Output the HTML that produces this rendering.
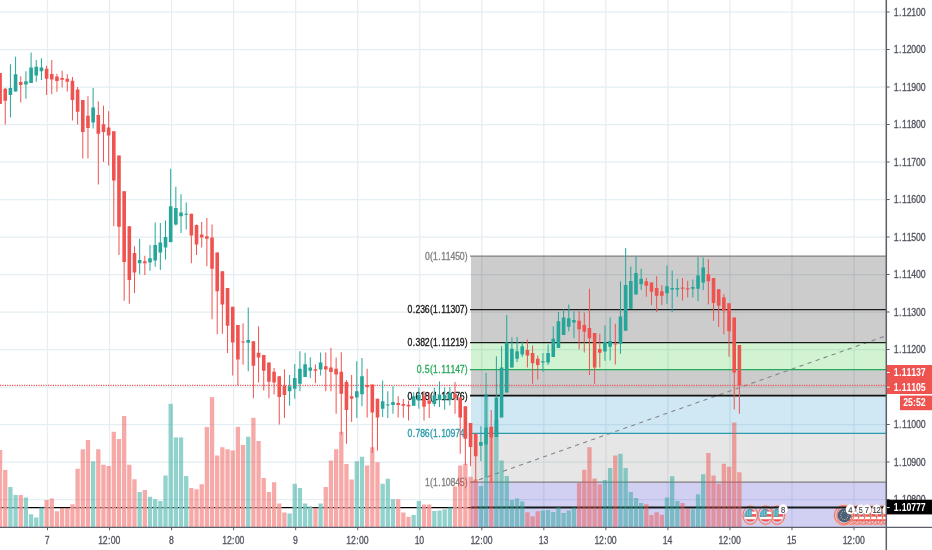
<!DOCTYPE html>
<html><head><meta charset="utf-8"><title>Chart</title>
<style>html,body{margin:0;padding:0;background:#fff;overflow:hidden}</style></head>
<body>
<svg width="932" height="550" viewBox="0 0 932 550" style="display:block;font-family:'Liberation Sans',sans-serif">
<rect width="932" height="550" fill="#fff"/>
<g stroke="#e4eef3" stroke-width="1.25">
<line x1="47.50" y1="0" x2="47.50" y2="527.4"/>
<line x1="109.54" y1="0" x2="109.54" y2="527.4"/>
<line x1="171.58" y1="0" x2="171.58" y2="527.4"/>
<line x1="233.62" y1="0" x2="233.62" y2="527.4"/>
<line x1="295.66" y1="0" x2="295.66" y2="527.4"/>
<line x1="357.70" y1="0" x2="357.70" y2="527.4"/>
<line x1="419.74" y1="0" x2="419.74" y2="527.4"/>
<line x1="481.78" y1="0" x2="481.78" y2="527.4"/>
<line x1="543.82" y1="0" x2="543.82" y2="527.4"/>
<line x1="605.86" y1="0" x2="605.86" y2="527.4"/>
<line x1="667.90" y1="0" x2="667.90" y2="527.4"/>
<line x1="729.94" y1="0" x2="729.94" y2="527.4"/>
<line x1="791.98" y1="0" x2="791.98" y2="527.4"/>
<line x1="854.02" y1="0" x2="854.02" y2="527.4"/>
<line x1="0" y1="12.00" x2="886.3" y2="12.00"/>
<line x1="0" y1="49.50" x2="886.3" y2="49.50"/>
<line x1="0" y1="87.00" x2="886.3" y2="87.00"/>
<line x1="0" y1="124.50" x2="886.3" y2="124.50"/>
<line x1="0" y1="162.00" x2="886.3" y2="162.00"/>
<line x1="0" y1="199.50" x2="886.3" y2="199.50"/>
<line x1="0" y1="237.00" x2="886.3" y2="237.00"/>
<line x1="0" y1="274.50" x2="886.3" y2="274.50"/>
<line x1="0" y1="312.00" x2="886.3" y2="312.00"/>
<line x1="0" y1="349.50" x2="886.3" y2="349.50"/>
<line x1="0" y1="387.00" x2="886.3" y2="387.00"/>
<line x1="0" y1="424.50" x2="886.3" y2="424.50"/>
<line x1="0" y1="462.00" x2="886.3" y2="462.00"/>
<line x1="0" y1="499.50" x2="886.3" y2="499.50"/>
</g>
<g>
<rect x="471.0" y="256.00" width="415.30" height="53.50" fill="#000000" fill-opacity="0.2"/>
<rect x="471.0" y="309.50" width="415.30" height="33.00" fill="#000000" fill-opacity="0.2"/>
<rect x="471.0" y="342.50" width="415.30" height="27.00" fill="#19c319" fill-opacity="0.2"/>
<rect x="471.0" y="369.50" width="415.30" height="26.10" fill="#000000" fill-opacity="0.2"/>
<rect x="471.0" y="395.60" width="415.30" height="37.80" fill="#148cc8" fill-opacity="0.2"/>
<rect x="471.0" y="433.40" width="415.30" height="48.60" fill="#808080" fill-opacity="0.2"/>
<rect x="471.0" y="482.00" width="415.30" height="45.40" fill="#1914c3" fill-opacity="0.2"/>
</g>
<line x1="471.0" y1="482.6" x2="886.3" y2="335.7" stroke="#85858a" stroke-width="1.1" stroke-dasharray="4.2 4.3"/>
<line x1="470.0" y1="256.00" x2="886.3" y2="256.00" stroke="#808080" stroke-width="1.25"/>
<text transform="translate(424.95,259.90) scale(0.81,1)" x="-0.10 6.17 10.05 16.52 20.02 25.77 31.52 37.27 43.01 49.28" y="0" font-size="10.7" fill="#808080" stroke="#808080" stroke-width="0.34">0(1.11450)</text>
<line x1="470.0" y1="309.50" x2="886.3" y2="309.50" stroke="#1a1a1a" stroke-width="1.25"/>
<text transform="translate(407.57,313.40) scale(0.81,1)" x="-0.10 6.37 9.87 15.62 21.37 27.64 31.52 37.99 41.49 47.23 52.98 58.73 64.48 70.75" y="0" font-size="10.7" fill="#1a1a1a" stroke="#1a1a1a" stroke-width="0.34">0.236(1.11307)</text>
<line x1="470.0" y1="342.50" x2="886.3" y2="342.50" stroke="#1a1a1a" stroke-width="1.25"/>
<text transform="translate(407.57,346.40) scale(0.81,1)" x="-0.10 6.37 9.87 15.62 21.37 27.64 31.52 37.99 41.49 47.23 52.98 58.73 64.48 70.75" y="0" font-size="10.7" fill="#1a1a1a" stroke="#1a1a1a" stroke-width="0.34">0.382(1.11219)</text>
<line x1="470.0" y1="369.50" x2="886.3" y2="369.50" stroke="#27a85a" stroke-width="1.25"/>
<text transform="translate(416.88,373.40) scale(0.81,1)" x="-0.10 6.37 9.87 16.14 20.02 26.49 29.99 35.74 41.49 47.23 52.98 59.25" y="0" font-size="10.7" fill="#27a85a" stroke="#27a85a" stroke-width="0.34">0.5(1.11147)</text>
<line x1="470.0" y1="395.60" x2="886.3" y2="395.60" stroke="#111" stroke-width="1.7"/>
<text transform="translate(407.57,399.50) scale(0.81,1)" x="-0.10 6.37 9.87 15.62 21.37 27.64 31.52 37.99 41.49 47.23 52.98 58.73 64.48 70.75" y="0" font-size="10.7" fill="#111" stroke="#111" stroke-width="0.34">0.618(1.11076)</text>
<line x1="470.0" y1="433.40" x2="886.3" y2="433.40" stroke="#2b9aaa" stroke-width="1.25"/>
<text transform="translate(407.57,437.30) scale(0.81,1)" x="-0.10 6.37 9.87 15.62 21.37 27.64 31.52 37.99 41.49 47.23 52.98 58.73 64.48 70.75" y="0" font-size="10.7" fill="#2b9aaa" stroke="#2b9aaa" stroke-width="0.34">0.786(1.10974)</text>
<line x1="470.0" y1="482.00" x2="886.3" y2="482.00" stroke="#808080" stroke-width="1.25"/>
<text transform="translate(424.95,485.90) scale(0.81,1)" x="-0.10 6.17 10.05 16.52 20.02 25.77 31.52 37.27 43.01 49.28" y="0" font-size="10.7" fill="#808080" stroke="#808080" stroke-width="0.34">1(1.10845)</text>
<clipPath id="chartclip"><rect x="0" y="0" width="886.3" height="527.4"/></clipPath>
<g clip-path="url(#chartclip)">
<ellipse cx="777.2" cy="515.1999999999999" rx="7.8" ry="9.6" fill="none" stroke="#fbb5a0" stroke-width="1.3" stroke-opacity="0.75"/><ellipse cx="777.2" cy="515.1999999999999" rx="7.35" ry="9.1" fill="none" stroke="#f2654f" stroke-width="0.9"/><clipPath id="c7772"><ellipse cx="777.2" cy="515.4" rx="5.95" ry="6.45"/></clipPath><g clip-path="url(#c7772)"><rect x="771.25" y="508.95" width="11.9" height="12.9" fill="#fff"/><rect x="771.25" y="508.95" width="11.9" height="2.58" fill="#f0524f"/><rect x="771.25" y="514.11" width="11.9" height="2.58" fill="#f0524f"/><rect x="771.25" y="519.27" width="11.9" height="2.58" fill="#f0524f"/><rect x="771.25" y="508.95" width="7.38" height="7.74" fill="#45a3b6"/><line x1="772.25" y1="511.05" x2="778.13" y2="511.05" stroke="#d6f0f3" stroke-width="0.8" stroke-dasharray="0.9 0.8"/><line x1="772.25" y1="512.95" x2="778.13" y2="512.95" stroke="#d6f0f3" stroke-width="0.8" stroke-dasharray="0.9 0.8"/><line x1="772.25" y1="514.85" x2="778.13" y2="514.85" stroke="#d6f0f3" stroke-width="0.8" stroke-dasharray="0.9 0.8"/></g>
<ellipse cx="765.6" cy="515.1999999999999" rx="7.8" ry="9.6" fill="none" stroke="#fbb5a0" stroke-width="1.3" stroke-opacity="0.75"/><ellipse cx="765.6" cy="515.1999999999999" rx="7.35" ry="9.1" fill="none" stroke="#f2654f" stroke-width="0.9"/><clipPath id="c7656"><ellipse cx="765.6" cy="515.4" rx="5.95" ry="6.45"/></clipPath><g clip-path="url(#c7656)"><rect x="759.65" y="508.95" width="11.9" height="12.9" fill="#fff"/><rect x="759.65" y="508.95" width="11.9" height="2.58" fill="#f0524f"/><rect x="759.65" y="514.11" width="11.9" height="2.58" fill="#f0524f"/><rect x="759.65" y="519.27" width="11.9" height="2.58" fill="#f0524f"/><rect x="759.65" y="508.95" width="7.38" height="7.74" fill="#45a3b6"/><line x1="760.65" y1="511.05" x2="766.53" y2="511.05" stroke="#d6f0f3" stroke-width="0.8" stroke-dasharray="0.9 0.8"/><line x1="760.65" y1="512.95" x2="766.53" y2="512.95" stroke="#d6f0f3" stroke-width="0.8" stroke-dasharray="0.9 0.8"/><line x1="760.65" y1="514.85" x2="766.53" y2="514.85" stroke="#d6f0f3" stroke-width="0.8" stroke-dasharray="0.9 0.8"/></g>
<ellipse cx="750.3" cy="515.1999999999999" rx="7.8" ry="9.6" fill="none" stroke="#fbb5a0" stroke-width="1.3" stroke-opacity="0.75"/><ellipse cx="750.3" cy="515.1999999999999" rx="7.35" ry="9.1" fill="none" stroke="#f2654f" stroke-width="0.9"/><clipPath id="c7503"><ellipse cx="750.3" cy="515.4" rx="5.95" ry="6.45"/></clipPath><g clip-path="url(#c7503)"><rect x="744.3499999999999" y="508.95" width="11.9" height="12.9" fill="#fff"/><rect x="744.3499999999999" y="508.95" width="11.9" height="2.58" fill="#f0524f"/><rect x="744.3499999999999" y="514.11" width="11.9" height="2.58" fill="#f0524f"/><rect x="744.3499999999999" y="519.27" width="11.9" height="2.58" fill="#f0524f"/><rect x="744.3499999999999" y="508.95" width="7.38" height="7.74" fill="#45a3b6"/><line x1="745.3499999999999" y1="511.05" x2="751.23" y2="511.05" stroke="#d6f0f3" stroke-width="0.8" stroke-dasharray="0.9 0.8"/><line x1="745.3499999999999" y1="512.95" x2="751.23" y2="512.95" stroke="#d6f0f3" stroke-width="0.8" stroke-dasharray="0.9 0.8"/><line x1="745.3499999999999" y1="514.85" x2="751.23" y2="514.85" stroke="#d6f0f3" stroke-width="0.8" stroke-dasharray="0.9 0.8"/></g>
<ellipse cx="887.5" cy="515.1999999999999" rx="7.8" ry="9.6" fill="none" stroke="#fbb5a0" stroke-width="1.3" stroke-opacity="0.75"/><ellipse cx="887.5" cy="515.1999999999999" rx="7.35" ry="9.1" fill="none" stroke="#f2654f" stroke-width="0.9"/><clipPath id="c8875"><ellipse cx="887.5" cy="515.4" rx="5.95" ry="6.45"/></clipPath><g clip-path="url(#c8875)"><rect x="881.55" y="508.95" width="11.9" height="12.9" fill="#fff"/><rect x="881.55" y="508.95" width="11.9" height="2.58" fill="#f0524f"/><rect x="881.55" y="514.11" width="11.9" height="2.58" fill="#f0524f"/><rect x="881.55" y="519.27" width="11.9" height="2.58" fill="#f0524f"/><rect x="881.55" y="508.95" width="7.38" height="7.74" fill="#45a3b6"/><line x1="882.55" y1="511.05" x2="888.43" y2="511.05" stroke="#d6f0f3" stroke-width="0.8" stroke-dasharray="0.9 0.8"/><line x1="882.55" y1="512.95" x2="888.43" y2="512.95" stroke="#d6f0f3" stroke-width="0.8" stroke-dasharray="0.9 0.8"/><line x1="882.55" y1="514.85" x2="888.43" y2="514.85" stroke="#d6f0f3" stroke-width="0.8" stroke-dasharray="0.9 0.8"/></g>
<ellipse cx="881.5" cy="515.1999999999999" rx="7.8" ry="9.6" fill="none" stroke="#fbb5a0" stroke-width="1.3" stroke-opacity="0.75"/><ellipse cx="881.5" cy="515.1999999999999" rx="7.35" ry="9.1" fill="none" stroke="#f2654f" stroke-width="0.9"/><clipPath id="c8815"><ellipse cx="881.5" cy="515.4" rx="5.95" ry="6.45"/></clipPath><g clip-path="url(#c8815)"><rect x="875.55" y="508.95" width="11.9" height="12.9" fill="#fff"/><rect x="875.55" y="508.95" width="11.9" height="2.58" fill="#f0524f"/><rect x="875.55" y="514.11" width="11.9" height="2.58" fill="#f0524f"/><rect x="875.55" y="519.27" width="11.9" height="2.58" fill="#f0524f"/><rect x="875.55" y="508.95" width="7.38" height="7.74" fill="#45a3b6"/><line x1="876.55" y1="511.05" x2="882.43" y2="511.05" stroke="#d6f0f3" stroke-width="0.8" stroke-dasharray="0.9 0.8"/><line x1="876.55" y1="512.95" x2="882.43" y2="512.95" stroke="#d6f0f3" stroke-width="0.8" stroke-dasharray="0.9 0.8"/><line x1="876.55" y1="514.85" x2="882.43" y2="514.85" stroke="#d6f0f3" stroke-width="0.8" stroke-dasharray="0.9 0.8"/></g>
<ellipse cx="875.5" cy="515.1999999999999" rx="7.8" ry="9.6" fill="none" stroke="#fbb5a0" stroke-width="1.3" stroke-opacity="0.75"/><ellipse cx="875.5" cy="515.1999999999999" rx="7.35" ry="9.1" fill="none" stroke="#f2654f" stroke-width="0.9"/><clipPath id="c8755"><ellipse cx="875.5" cy="515.4" rx="5.95" ry="6.45"/></clipPath><g clip-path="url(#c8755)"><rect x="869.55" y="508.95" width="11.9" height="12.9" fill="#fff"/><rect x="869.55" y="508.95" width="11.9" height="2.58" fill="#f0524f"/><rect x="869.55" y="514.11" width="11.9" height="2.58" fill="#f0524f"/><rect x="869.55" y="519.27" width="11.9" height="2.58" fill="#f0524f"/><rect x="869.55" y="508.95" width="7.38" height="7.74" fill="#45a3b6"/><line x1="870.55" y1="511.05" x2="876.43" y2="511.05" stroke="#d6f0f3" stroke-width="0.8" stroke-dasharray="0.9 0.8"/><line x1="870.55" y1="512.95" x2="876.43" y2="512.95" stroke="#d6f0f3" stroke-width="0.8" stroke-dasharray="0.9 0.8"/><line x1="870.55" y1="514.85" x2="876.43" y2="514.85" stroke="#d6f0f3" stroke-width="0.8" stroke-dasharray="0.9 0.8"/></g>
<ellipse cx="869.5" cy="515.1999999999999" rx="7.8" ry="9.6" fill="none" stroke="#fbb5a0" stroke-width="1.3" stroke-opacity="0.75"/><ellipse cx="869.5" cy="515.1999999999999" rx="7.35" ry="9.1" fill="none" stroke="#f2654f" stroke-width="0.9"/><clipPath id="c8695"><ellipse cx="869.5" cy="515.4" rx="5.95" ry="6.45"/></clipPath><g clip-path="url(#c8695)"><rect x="863.55" y="508.95" width="11.9" height="12.9" fill="#fff"/><rect x="863.55" y="508.95" width="11.9" height="2.58" fill="#f0524f"/><rect x="863.55" y="514.11" width="11.9" height="2.58" fill="#f0524f"/><rect x="863.55" y="519.27" width="11.9" height="2.58" fill="#f0524f"/><rect x="863.55" y="508.95" width="7.38" height="7.74" fill="#45a3b6"/><line x1="864.55" y1="511.05" x2="870.43" y2="511.05" stroke="#d6f0f3" stroke-width="0.8" stroke-dasharray="0.9 0.8"/><line x1="864.55" y1="512.95" x2="870.43" y2="512.95" stroke="#d6f0f3" stroke-width="0.8" stroke-dasharray="0.9 0.8"/><line x1="864.55" y1="514.85" x2="870.43" y2="514.85" stroke="#d6f0f3" stroke-width="0.8" stroke-dasharray="0.9 0.8"/></g>
<ellipse cx="863.5" cy="515.1999999999999" rx="7.8" ry="9.6" fill="none" stroke="#fbb5a0" stroke-width="1.3" stroke-opacity="0.75"/><ellipse cx="863.5" cy="515.1999999999999" rx="7.35" ry="9.1" fill="none" stroke="#f2654f" stroke-width="0.9"/><clipPath id="c8635"><ellipse cx="863.5" cy="515.4" rx="5.95" ry="6.45"/></clipPath><g clip-path="url(#c8635)"><rect x="857.55" y="508.95" width="11.9" height="12.9" fill="#fff"/><rect x="857.55" y="508.95" width="11.9" height="2.58" fill="#f0524f"/><rect x="857.55" y="514.11" width="11.9" height="2.58" fill="#f0524f"/><rect x="857.55" y="519.27" width="11.9" height="2.58" fill="#f0524f"/><rect x="857.55" y="508.95" width="7.38" height="7.74" fill="#45a3b6"/><line x1="858.55" y1="511.05" x2="864.43" y2="511.05" stroke="#d6f0f3" stroke-width="0.8" stroke-dasharray="0.9 0.8"/><line x1="858.55" y1="512.95" x2="864.43" y2="512.95" stroke="#d6f0f3" stroke-width="0.8" stroke-dasharray="0.9 0.8"/><line x1="858.55" y1="514.85" x2="864.43" y2="514.85" stroke="#d6f0f3" stroke-width="0.8" stroke-dasharray="0.9 0.8"/></g>
<ellipse cx="857.5" cy="515.1999999999999" rx="7.8" ry="9.6" fill="none" stroke="#fbb5a0" stroke-width="1.3" stroke-opacity="0.75"/><ellipse cx="857.5" cy="515.1999999999999" rx="7.35" ry="9.1" fill="none" stroke="#f2654f" stroke-width="0.9"/><clipPath id="c8575"><ellipse cx="857.5" cy="515.4" rx="5.95" ry="6.45"/></clipPath><g clip-path="url(#c8575)"><rect x="851.55" y="508.95" width="11.9" height="12.9" fill="#fff"/><rect x="851.55" y="508.95" width="11.9" height="2.58" fill="#f0524f"/><rect x="851.55" y="514.11" width="11.9" height="2.58" fill="#f0524f"/><rect x="851.55" y="519.27" width="11.9" height="2.58" fill="#f0524f"/><rect x="851.55" y="508.95" width="7.38" height="7.74" fill="#45a3b6"/><line x1="852.55" y1="511.05" x2="858.43" y2="511.05" stroke="#d6f0f3" stroke-width="0.8" stroke-dasharray="0.9 0.8"/><line x1="852.55" y1="512.95" x2="858.43" y2="512.95" stroke="#d6f0f3" stroke-width="0.8" stroke-dasharray="0.9 0.8"/><line x1="852.55" y1="514.85" x2="858.43" y2="514.85" stroke="#d6f0f3" stroke-width="0.8" stroke-dasharray="0.9 0.8"/></g>
<ellipse cx="851.5" cy="515.1999999999999" rx="7.8" ry="9.6" fill="none" stroke="#fbb5a0" stroke-width="1.3" stroke-opacity="0.75"/><ellipse cx="851.5" cy="515.1999999999999" rx="7.35" ry="9.1" fill="none" stroke="#f2654f" stroke-width="0.9"/><clipPath id="c8515"><ellipse cx="851.5" cy="515.4" rx="5.95" ry="6.45"/></clipPath><g clip-path="url(#c8515)"><rect x="845.55" y="508.95" width="11.9" height="12.9" fill="#fff"/><rect x="845.55" y="508.95" width="11.9" height="2.58" fill="#f0524f"/><rect x="845.55" y="514.11" width="11.9" height="2.58" fill="#f0524f"/><rect x="845.55" y="519.27" width="11.9" height="2.58" fill="#f0524f"/><rect x="845.55" y="508.95" width="7.38" height="7.74" fill="#45a3b6"/><line x1="846.55" y1="511.05" x2="852.43" y2="511.05" stroke="#d6f0f3" stroke-width="0.8" stroke-dasharray="0.9 0.8"/><line x1="846.55" y1="512.95" x2="852.43" y2="512.95" stroke="#d6f0f3" stroke-width="0.8" stroke-dasharray="0.9 0.8"/><line x1="846.55" y1="514.85" x2="852.43" y2="514.85" stroke="#d6f0f3" stroke-width="0.8" stroke-dasharray="0.9 0.8"/></g>
<ellipse cx="844.0" cy="515.1999999999999" rx="10.0" ry="10.2" fill="none" stroke="#fbb5a0" stroke-width="1.3" stroke-opacity="0.75"/><ellipse cx="844.0" cy="515.1999999999999" rx="9.55" ry="9.7" fill="none" stroke="#f2654f" stroke-width="0.9"/><ellipse cx="844.4" cy="515.1999999999999" rx="7.9" ry="9.3" fill="none" stroke="#fbb5a0" stroke-width="1.3" stroke-opacity="0.75"/><ellipse cx="844.4" cy="515.1999999999999" rx="7.45" ry="8.8" fill="none" stroke="#f2654f" stroke-width="0.9"/><ellipse cx="844.4" cy="515.4" rx="6.7" ry="7.0" fill="#4a6079"/><circle cx="848.10" cy="515.40" r="0.5" fill="#d9c9a0"/><circle cx="847.60" cy="517.50" r="0.5" fill="#d9c9a0"/><circle cx="846.25" cy="519.04" r="0.5" fill="#d9c9a0"/><circle cx="844.40" cy="519.60" r="0.5" fill="#d9c9a0"/><circle cx="842.55" cy="519.04" r="0.5" fill="#d9c9a0"/><circle cx="841.20" cy="517.50" r="0.5" fill="#d9c9a0"/><circle cx="840.70" cy="515.40" r="0.5" fill="#d9c9a0"/><circle cx="841.20" cy="513.30" r="0.5" fill="#d9c9a0"/><circle cx="842.55" cy="511.76" r="0.5" fill="#d9c9a0"/><circle cx="844.40" cy="511.20" r="0.5" fill="#d9c9a0"/><circle cx="846.25" cy="511.76" r="0.5" fill="#d9c9a0"/><circle cx="847.60" cy="513.30" r="0.5" fill="#d9c9a0"/>
</g>
<line x1="0" y1="507.6" x2="471.0" y2="507.6" stroke="#000" stroke-width="1.3"/>
<line x1="471.0" y1="507.55" x2="886.3" y2="507.55" stroke="#151c1c" stroke-width="1.9"/>
<g fill="#fff" fill-opacity="0.72">
<rect x="-2.08" y="506.5" width="4.3" height="2.2"/>
<rect x="3.09" y="506.5" width="4.3" height="2.2"/>
<rect x="8.26" y="506.5" width="4.3" height="2.2"/>
<rect x="13.43" y="506.5" width="4.3" height="2.2"/>
<rect x="18.60" y="506.5" width="4.3" height="2.2"/>
<rect x="23.77" y="506.5" width="4.3" height="2.2"/>
<rect x="44.45" y="506.5" width="4.3" height="2.2"/>
<rect x="49.62" y="506.5" width="4.3" height="2.2"/>
<rect x="70.30" y="506.5" width="4.3" height="2.2"/>
<rect x="75.47" y="506.5" width="4.3" height="2.2"/>
<rect x="80.64" y="506.5" width="4.3" height="2.2"/>
<rect x="85.81" y="506.5" width="4.3" height="2.2"/>
<rect x="90.98" y="506.5" width="4.3" height="2.2"/>
<rect x="96.15" y="506.5" width="4.3" height="2.2"/>
<rect x="101.32" y="506.5" width="4.3" height="2.2"/>
<rect x="106.49" y="506.5" width="4.3" height="2.2"/>
<rect x="111.66" y="506.5" width="4.3" height="2.2"/>
<rect x="116.83" y="506.5" width="4.3" height="2.2"/>
<rect x="122.00" y="506.5" width="4.3" height="2.2"/>
<rect x="127.17" y="506.5" width="4.3" height="2.2"/>
<rect x="132.34" y="506.5" width="4.3" height="2.2"/>
<rect x="137.51" y="506.5" width="4.3" height="2.2"/>
<rect x="142.68" y="506.5" width="4.3" height="2.2"/>
<rect x="147.85" y="506.5" width="4.3" height="2.2"/>
<rect x="153.02" y="506.5" width="4.3" height="2.2"/>
<rect x="158.19" y="506.5" width="4.3" height="2.2"/>
<rect x="163.36" y="506.5" width="4.3" height="2.2"/>
<rect x="168.53" y="506.5" width="4.3" height="2.2"/>
<rect x="173.70" y="506.5" width="4.3" height="2.2"/>
<rect x="178.87" y="506.5" width="4.3" height="2.2"/>
<rect x="184.04" y="506.5" width="4.3" height="2.2"/>
<rect x="189.21" y="506.5" width="4.3" height="2.2"/>
<rect x="194.38" y="506.5" width="4.3" height="2.2"/>
<rect x="199.55" y="506.5" width="4.3" height="2.2"/>
<rect x="204.72" y="506.5" width="4.3" height="2.2"/>
<rect x="209.89" y="506.5" width="4.3" height="2.2"/>
<rect x="215.06" y="506.5" width="4.3" height="2.2"/>
<rect x="220.23" y="506.5" width="4.3" height="2.2"/>
<rect x="225.40" y="506.5" width="4.3" height="2.2"/>
<rect x="230.57" y="506.5" width="4.3" height="2.2"/>
<rect x="235.74" y="506.5" width="4.3" height="2.2"/>
<rect x="240.91" y="506.5" width="4.3" height="2.2"/>
<rect x="246.08" y="506.5" width="4.3" height="2.2"/>
<rect x="251.25" y="506.5" width="4.3" height="2.2"/>
<rect x="256.42" y="506.5" width="4.3" height="2.2"/>
<rect x="261.59" y="506.5" width="4.3" height="2.2"/>
<rect x="266.76" y="506.5" width="4.3" height="2.2"/>
<rect x="271.93" y="506.5" width="4.3" height="2.2"/>
<rect x="277.10" y="506.5" width="4.3" height="2.2"/>
<rect x="292.61" y="506.5" width="4.3" height="2.2"/>
<rect x="297.78" y="506.5" width="4.3" height="2.2"/>
<rect x="302.95" y="506.5" width="4.3" height="2.2"/>
<rect x="308.12" y="506.5" width="4.3" height="2.2"/>
<rect x="318.46" y="506.5" width="4.3" height="2.2"/>
<rect x="323.63" y="506.5" width="4.3" height="2.2"/>
<rect x="328.80" y="506.5" width="4.3" height="2.2"/>
<rect x="333.97" y="506.5" width="4.3" height="2.2"/>
<rect x="339.14" y="506.5" width="4.3" height="2.2"/>
<rect x="344.31" y="506.5" width="4.3" height="2.2"/>
<rect x="349.48" y="506.5" width="4.3" height="2.2"/>
<rect x="354.65" y="506.5" width="4.3" height="2.2"/>
<rect x="359.82" y="506.5" width="4.3" height="2.2"/>
<rect x="364.99" y="506.5" width="4.3" height="2.2"/>
<rect x="370.16" y="506.5" width="4.3" height="2.2"/>
<rect x="375.33" y="506.5" width="4.3" height="2.2"/>
<rect x="380.50" y="506.5" width="4.3" height="2.2"/>
<rect x="385.67" y="506.5" width="4.3" height="2.2"/>
<rect x="390.84" y="506.5" width="4.3" height="2.2"/>
<rect x="396.01" y="506.5" width="4.3" height="2.2"/>
<rect x="416.69" y="506.5" width="4.3" height="2.2"/>
<rect x="421.86" y="506.5" width="4.3" height="2.2"/>
<rect x="427.03" y="506.5" width="4.3" height="2.2"/>
<rect x="452.88" y="506.5" width="4.3" height="2.2"/>
<rect x="458.05" y="506.5" width="4.3" height="2.2"/>
<rect x="463.22" y="506.5" width="4.3" height="2.2"/>
</g>
<g fill-opacity="0.5">
<rect x="-2.08" y="450.00" width="4.3" height="77.40" fill="#ef5350"/>
<rect x="3.09" y="470.00" width="4.3" height="57.40" fill="#ef5350"/>
<rect x="8.26" y="487.00" width="4.3" height="40.40" fill="#26a69a"/>
<rect x="13.43" y="495.00" width="4.3" height="32.40" fill="#26a69a"/>
<rect x="18.60" y="495.00" width="4.3" height="32.40" fill="#ef5350"/>
<rect x="23.77" y="497.50" width="4.3" height="29.90" fill="#26a69a"/>
<rect x="28.94" y="514.25" width="4.3" height="13.15" fill="#26a69a"/>
<rect x="34.11" y="517.50" width="4.3" height="9.90" fill="#26a69a"/>
<rect x="39.28" y="506.75" width="4.3" height="20.65" fill="#26a69a"/>
<rect x="44.45" y="500.00" width="4.3" height="27.40" fill="#ef5350"/>
<rect x="49.62" y="498.50" width="4.3" height="28.90" fill="#ef5350"/>
<rect x="54.79" y="511.25" width="4.3" height="16.15" fill="#ef5350"/>
<rect x="59.96" y="508.00" width="4.3" height="19.40" fill="#ef5350"/>
<rect x="65.13" y="508.00" width="4.3" height="19.40" fill="#ef5350"/>
<rect x="70.30" y="504.25" width="4.3" height="23.15" fill="#ef5350"/>
<rect x="75.47" y="468.75" width="4.3" height="58.65" fill="#ef5350"/>
<rect x="80.64" y="449.25" width="4.3" height="78.15" fill="#ef5350"/>
<rect x="85.81" y="440.00" width="4.3" height="87.40" fill="#ef5350"/>
<rect x="90.98" y="461.25" width="4.3" height="66.15" fill="#26a69a"/>
<rect x="96.15" y="449.25" width="4.3" height="78.15" fill="#ef5350"/>
<rect x="101.32" y="464.75" width="4.3" height="62.65" fill="#ef5350"/>
<rect x="106.49" y="466.00" width="4.3" height="61.40" fill="#ef5350"/>
<rect x="111.66" y="431.75" width="4.3" height="95.65" fill="#ef5350"/>
<rect x="116.83" y="439.00" width="4.3" height="88.40" fill="#ef5350"/>
<rect x="122.00" y="416.00" width="4.3" height="111.40" fill="#ef5350"/>
<rect x="127.17" y="464.75" width="4.3" height="62.65" fill="#ef5350"/>
<rect x="132.34" y="479.25" width="4.3" height="48.15" fill="#ef5350"/>
<rect x="137.51" y="492.00" width="4.3" height="35.40" fill="#26a69a"/>
<rect x="142.68" y="490.00" width="4.3" height="37.40" fill="#ef5350"/>
<rect x="147.85" y="496.75" width="4.3" height="30.65" fill="#26a69a"/>
<rect x="153.02" y="499.25" width="4.3" height="28.15" fill="#26a69a"/>
<rect x="158.19" y="501.00" width="4.3" height="26.40" fill="#26a69a"/>
<rect x="163.36" y="475.50" width="4.3" height="51.90" fill="#26a69a"/>
<rect x="168.53" y="403.80" width="4.3" height="123.60" fill="#26a69a"/>
<rect x="173.70" y="437.40" width="4.3" height="90.00" fill="#26a69a"/>
<rect x="178.87" y="437.40" width="4.3" height="90.00" fill="#26a69a"/>
<rect x="184.04" y="476.00" width="4.3" height="51.40" fill="#26a69a"/>
<rect x="189.21" y="488.00" width="4.3" height="39.40" fill="#ef5350"/>
<rect x="194.38" y="489.25" width="4.3" height="38.15" fill="#ef5350"/>
<rect x="199.55" y="484.25" width="4.3" height="43.15" fill="#ef5350"/>
<rect x="204.72" y="427.00" width="4.3" height="100.40" fill="#ef5350"/>
<rect x="209.89" y="397.10" width="4.3" height="130.30" fill="#ef5350"/>
<rect x="215.06" y="455.50" width="4.3" height="71.90" fill="#ef5350"/>
<rect x="220.23" y="447.25" width="4.3" height="80.15" fill="#ef5350"/>
<rect x="225.40" y="449.25" width="4.3" height="78.15" fill="#ef5350"/>
<rect x="230.57" y="450.50" width="4.3" height="76.90" fill="#ef5350"/>
<rect x="235.74" y="426.90" width="4.3" height="100.50" fill="#ef5350"/>
<rect x="240.91" y="445.00" width="4.3" height="82.40" fill="#ef5350"/>
<rect x="246.08" y="436.70" width="4.3" height="90.70" fill="#26a69a"/>
<rect x="251.25" y="417.80" width="4.3" height="109.60" fill="#ef5350"/>
<rect x="256.42" y="441.00" width="4.3" height="86.40" fill="#ef5350"/>
<rect x="261.59" y="478.00" width="4.3" height="49.40" fill="#ef5350"/>
<rect x="266.76" y="492.00" width="4.3" height="35.40" fill="#ef5350"/>
<rect x="271.93" y="482.25" width="4.3" height="45.15" fill="#ef5350"/>
<rect x="277.10" y="503.50" width="4.3" height="23.90" fill="#ef5350"/>
<rect x="282.27" y="512.50" width="4.3" height="14.90" fill="#ef5350"/>
<rect x="287.44" y="513.50" width="4.3" height="13.90" fill="#26a69a"/>
<rect x="292.61" y="483.75" width="4.3" height="43.65" fill="#26a69a"/>
<rect x="297.78" y="488.00" width="4.3" height="39.40" fill="#26a69a"/>
<rect x="302.95" y="503.50" width="4.3" height="23.90" fill="#26a69a"/>
<rect x="308.12" y="506.25" width="4.3" height="21.15" fill="#26a69a"/>
<rect x="313.29" y="507.50" width="4.3" height="19.90" fill="#ef5350"/>
<rect x="318.46" y="503.50" width="4.3" height="23.90" fill="#26a69a"/>
<rect x="323.63" y="487.00" width="4.3" height="40.40" fill="#ef5350"/>
<rect x="328.80" y="460.50" width="4.3" height="66.90" fill="#ef5350"/>
<rect x="333.97" y="449.25" width="4.3" height="78.15" fill="#ef5350"/>
<rect x="339.14" y="431.75" width="4.3" height="95.65" fill="#ef5350"/>
<rect x="344.31" y="464.00" width="4.3" height="63.40" fill="#ef5350"/>
<rect x="349.48" y="479.50" width="4.3" height="47.90" fill="#ef5350"/>
<rect x="354.65" y="461.25" width="4.3" height="66.15" fill="#26a69a"/>
<rect x="359.82" y="456.75" width="4.3" height="70.65" fill="#26a69a"/>
<rect x="364.99" y="465.50" width="4.3" height="61.90" fill="#ef5350"/>
<rect x="370.16" y="447.25" width="4.3" height="80.15" fill="#ef5350"/>
<rect x="375.33" y="462.25" width="4.3" height="65.15" fill="#ef5350"/>
<rect x="380.50" y="483.75" width="4.3" height="43.65" fill="#26a69a"/>
<rect x="385.67" y="478.75" width="4.3" height="48.65" fill="#26a69a"/>
<rect x="390.84" y="499.25" width="4.3" height="28.15" fill="#26a69a"/>
<rect x="396.01" y="499.25" width="4.3" height="28.15" fill="#ef5350"/>
<rect x="401.18" y="512.50" width="4.3" height="14.90" fill="#ef5350"/>
<rect x="406.35" y="516.75" width="4.3" height="10.65" fill="#ef5350"/>
<rect x="411.52" y="515.00" width="4.3" height="12.40" fill="#26a69a"/>
<rect x="416.69" y="501.00" width="4.3" height="26.40" fill="#26a69a"/>
<rect x="421.86" y="504.50" width="4.3" height="22.90" fill="#ef5350"/>
<rect x="427.03" y="504.50" width="4.3" height="22.90" fill="#ef5350"/>
<rect x="432.20" y="511.00" width="4.3" height="16.40" fill="#26a69a"/>
<rect x="437.37" y="510.50" width="4.3" height="16.90" fill="#26a69a"/>
<rect x="442.54" y="509.25" width="4.3" height="18.15" fill="#26a69a"/>
<rect x="447.71" y="506.75" width="4.3" height="20.65" fill="#26a69a"/>
<rect x="452.88" y="486.50" width="4.3" height="40.90" fill="#ef5350"/>
<rect x="458.05" y="465.50" width="4.3" height="61.90" fill="#ef5350"/>
<rect x="463.22" y="463.75" width="4.3" height="63.65" fill="#ef5350"/>
<rect x="468.39" y="476.75" width="4.3" height="50.65" fill="#ef5350"/>
<rect x="473.56" y="479.25" width="4.3" height="48.15" fill="#ef5350"/>
<rect x="478.73" y="486.00" width="4.3" height="41.40" fill="#26a69a"/>
<rect x="483.90" y="394.00" width="4.3" height="133.40" fill="#26a69a"/>
<rect x="489.07" y="426.50" width="4.3" height="100.90" fill="#ef5350"/>
<rect x="494.24" y="420.00" width="4.3" height="107.40" fill="#26a69a"/>
<rect x="499.41" y="460.50" width="4.3" height="66.90" fill="#26a69a"/>
<rect x="504.58" y="476.00" width="4.3" height="51.40" fill="#26a69a"/>
<rect x="509.75" y="500.00" width="4.3" height="27.40" fill="#26a69a"/>
<rect x="514.92" y="498.50" width="4.3" height="28.90" fill="#26a69a"/>
<rect x="520.09" y="501.50" width="4.3" height="25.90" fill="#26a69a"/>
<rect x="525.26" y="512.25" width="4.3" height="15.15" fill="#ef5350"/>
<rect x="530.43" y="516.25" width="4.3" height="11.15" fill="#ef5350"/>
<rect x="535.60" y="511.25" width="4.3" height="16.15" fill="#ef5350"/>
<rect x="540.77" y="510.50" width="4.3" height="16.90" fill="#26a69a"/>
<rect x="545.94" y="510.00" width="4.3" height="17.40" fill="#26a69a"/>
<rect x="551.11" y="512.00" width="4.3" height="15.40" fill="#26a69a"/>
<rect x="556.28" y="507.25" width="4.3" height="20.15" fill="#26a69a"/>
<rect x="561.45" y="513.00" width="4.3" height="14.40" fill="#26a69a"/>
<rect x="566.62" y="510.50" width="4.3" height="16.90" fill="#26a69a"/>
<rect x="571.79" y="507.50" width="4.3" height="19.90" fill="#26a69a"/>
<rect x="576.96" y="483.00" width="4.3" height="44.40" fill="#ef5350"/>
<rect x="582.13" y="469.75" width="4.3" height="57.65" fill="#ef5350"/>
<rect x="587.30" y="447.25" width="4.3" height="80.15" fill="#ef5350"/>
<rect x="592.47" y="478.50" width="4.3" height="48.90" fill="#ef5350"/>
<rect x="597.64" y="484.25" width="4.3" height="43.15" fill="#ef5350"/>
<rect x="602.81" y="480.00" width="4.3" height="47.40" fill="#26a69a"/>
<rect x="607.98" y="468.00" width="4.3" height="59.40" fill="#26a69a"/>
<rect x="613.15" y="455.50" width="4.3" height="71.90" fill="#ef5350"/>
<rect x="618.32" y="453.75" width="4.3" height="73.65" fill="#26a69a"/>
<rect x="623.49" y="468.00" width="4.3" height="59.40" fill="#26a69a"/>
<rect x="628.66" y="492.00" width="4.3" height="35.40" fill="#26a69a"/>
<rect x="633.83" y="498.00" width="4.3" height="29.40" fill="#26a69a"/>
<rect x="639.00" y="503.00" width="4.3" height="24.40" fill="#26a69a"/>
<rect x="644.17" y="504.25" width="4.3" height="23.15" fill="#ef5350"/>
<rect x="649.34" y="515.00" width="4.3" height="12.40" fill="#ef5350"/>
<rect x="654.51" y="512.25" width="4.3" height="15.15" fill="#ef5350"/>
<rect x="659.68" y="514.75" width="4.3" height="12.65" fill="#ef5350"/>
<rect x="664.85" y="497.50" width="4.3" height="29.90" fill="#26a69a"/>
<rect x="670.02" y="476.25" width="4.3" height="51.15" fill="#26a69a"/>
<rect x="675.19" y="501.00" width="4.3" height="26.40" fill="#26a69a"/>
<rect x="680.36" y="503.00" width="4.3" height="24.40" fill="#ef5350"/>
<rect x="685.53" y="508.75" width="4.3" height="18.65" fill="#ef5350"/>
<rect x="690.70" y="509.25" width="4.3" height="18.15" fill="#26a69a"/>
<rect x="695.87" y="494.25" width="4.3" height="33.15" fill="#26a69a"/>
<rect x="701.04" y="474.25" width="4.3" height="53.15" fill="#26a69a"/>
<rect x="706.21" y="453.00" width="4.3" height="74.40" fill="#ef5350"/>
<rect x="711.38" y="475.50" width="4.3" height="51.90" fill="#ef5350"/>
<rect x="716.55" y="483.75" width="4.3" height="43.65" fill="#ef5350"/>
<rect x="721.72" y="463.75" width="4.3" height="63.65" fill="#ef5350"/>
<rect x="726.89" y="466.75" width="4.3" height="60.65" fill="#ef5350"/>
<rect x="732.06" y="422.50" width="4.3" height="104.90" fill="#ef5350"/>
<rect x="737.23" y="472.25" width="4.3" height="55.15" fill="#ef5350"/>
</g>
<line x1="0" y1="385.3" x2="886.3" y2="385.3" stroke="#ef5350" stroke-width="1.2" stroke-dasharray="1.2 1.2"/>
<g>
<rect x="-0.43" y="73.00" width="1" height="31.00" fill="#ef5350"/>
<rect x="-1.73" y="73.00" width="3.6" height="31.00" fill="#ef5350"/>
<rect x="4.74" y="88.00" width="1" height="36.50" fill="#ef5350"/>
<rect x="3.44" y="88.75" width="3.6" height="12.00" fill="#ef5350"/>
<rect x="9.91" y="64.25" width="1" height="53.25" fill="#26a69a"/>
<rect x="8.61" y="88.00" width="3.6" height="7.00" fill="#26a69a"/>
<rect x="15.08" y="56.75" width="1" height="34.75" fill="#26a69a"/>
<rect x="13.78" y="74.25" width="3.6" height="17.25" fill="#26a69a"/>
<rect x="20.25" y="76.25" width="1" height="26.25" fill="#ef5350"/>
<rect x="18.95" y="82.00" width="3.6" height="3.00" fill="#ef5350"/>
<rect x="25.42" y="71.25" width="1" height="27.50" fill="#26a69a"/>
<rect x="24.12" y="81.25" width="3.6" height="3.25" fill="#26a69a"/>
<rect x="30.59" y="52.50" width="1" height="30.50" fill="#26a69a"/>
<rect x="29.29" y="67.50" width="3.6" height="15.50" fill="#26a69a"/>
<rect x="35.76" y="60.00" width="1" height="21.75" fill="#26a69a"/>
<rect x="34.46" y="66.75" width="3.6" height="8.75" fill="#26a69a"/>
<rect x="40.93" y="58.25" width="1" height="21.75" fill="#26a69a"/>
<rect x="39.63" y="67.50" width="3.6" height="3.75" fill="#26a69a"/>
<rect x="46.10" y="65.75" width="1" height="29.25" fill="#ef5350"/>
<rect x="44.80" y="68.75" width="3.6" height="10.00" fill="#ef5350"/>
<rect x="51.27" y="60.00" width="1" height="34.25" fill="#ef5350"/>
<rect x="49.97" y="74.00" width="3.6" height="5.50" fill="#ef5350"/>
<rect x="56.44" y="73.75" width="1" height="18.00" fill="#ef5350"/>
<rect x="55.14" y="76.50" width="3.6" height="4.50" fill="#ef5350"/>
<rect x="61.61" y="70.75" width="1" height="16.75" fill="#ef5350"/>
<rect x="60.31" y="78.00" width="3.6" height="1.75" fill="#ef5350"/>
<rect x="66.78" y="74.25" width="1" height="17.25" fill="#ef5350"/>
<rect x="65.48" y="78.75" width="3.6" height="3.00" fill="#ef5350"/>
<rect x="71.95" y="77.00" width="1" height="43.50" fill="#ef5350"/>
<rect x="70.65" y="80.75" width="3.6" height="19.25" fill="#ef5350"/>
<rect x="77.12" y="87.00" width="1" height="37.50" fill="#ef5350"/>
<rect x="75.82" y="89.50" width="3.6" height="22.25" fill="#ef5350"/>
<rect x="82.29" y="100.00" width="1" height="58.50" fill="#ef5350"/>
<rect x="80.99" y="100.00" width="3.6" height="32.00" fill="#ef5350"/>
<rect x="87.46" y="96.25" width="1" height="62.25" fill="#ef5350"/>
<rect x="86.16" y="115.75" width="3.6" height="12.25" fill="#ef5350"/>
<rect x="92.63" y="88.00" width="1" height="40.50" fill="#26a69a"/>
<rect x="91.33" y="107.50" width="3.6" height="15.00" fill="#26a69a"/>
<rect x="97.80" y="101.25" width="1" height="83.25" fill="#ef5350"/>
<rect x="96.50" y="115.00" width="3.6" height="18.75" fill="#ef5350"/>
<rect x="102.97" y="105.75" width="1" height="56.25" fill="#ef5350"/>
<rect x="101.67" y="124.25" width="3.6" height="7.75" fill="#ef5350"/>
<rect x="108.14" y="111.25" width="1" height="54.25" fill="#ef5350"/>
<rect x="106.84" y="127.50" width="3.6" height="8.00" fill="#ef5350"/>
<rect x="113.31" y="131.25" width="1" height="95.00" fill="#ef5350"/>
<rect x="112.01" y="131.25" width="3.6" height="49.25" fill="#ef5350"/>
<rect x="118.48" y="155.50" width="1" height="99.50" fill="#ef5350"/>
<rect x="117.18" y="155.50" width="3.6" height="71.25" fill="#ef5350"/>
<rect x="123.65" y="191.25" width="1" height="109.50" fill="#ef5350"/>
<rect x="122.35" y="191.25" width="3.6" height="70.75" fill="#ef5350"/>
<rect x="128.82" y="226.25" width="1" height="77.50" fill="#ef5350"/>
<rect x="127.52" y="226.25" width="3.6" height="53.75" fill="#ef5350"/>
<rect x="133.99" y="246.25" width="1" height="46.75" fill="#ef5350"/>
<rect x="132.69" y="253.00" width="3.6" height="19.50" fill="#ef5350"/>
<rect x="139.16" y="238.75" width="1" height="35.50" fill="#26a69a"/>
<rect x="137.86" y="260.00" width="3.6" height="3.25" fill="#26a69a"/>
<rect x="144.33" y="255.75" width="1" height="19.25" fill="#ef5350"/>
<rect x="143.03" y="261.25" width="3.6" height="2.00" fill="#ef5350"/>
<rect x="149.50" y="245.00" width="1" height="25.75" fill="#26a69a"/>
<rect x="148.20" y="258.25" width="3.6" height="4.25" fill="#26a69a"/>
<rect x="154.67" y="222.50" width="1" height="44.25" fill="#26a69a"/>
<rect x="153.37" y="245.00" width="3.6" height="15.50" fill="#26a69a"/>
<rect x="159.84" y="223.00" width="1" height="47.00" fill="#26a69a"/>
<rect x="158.54" y="242.50" width="3.6" height="10.00" fill="#26a69a"/>
<rect x="165.01" y="220.50" width="1" height="39.00" fill="#26a69a"/>
<rect x="163.71" y="237.00" width="3.6" height="10.50" fill="#26a69a"/>
<rect x="170.18" y="168.75" width="1" height="73.75" fill="#26a69a"/>
<rect x="168.88" y="206.25" width="3.6" height="35.75" fill="#26a69a"/>
<rect x="175.35" y="186.75" width="1" height="38.75" fill="#26a69a"/>
<rect x="174.05" y="208.00" width="3.6" height="16.50" fill="#26a69a"/>
<rect x="180.52" y="194.25" width="1" height="38.75" fill="#26a69a"/>
<rect x="179.22" y="212.50" width="3.6" height="3.75" fill="#26a69a"/>
<rect x="185.69" y="202.50" width="1" height="27.00" fill="#26a69a"/>
<rect x="184.39" y="213.75" width="3.6" height="1.00" fill="#26a69a"/>
<rect x="190.86" y="213.75" width="1" height="49.50" fill="#ef5350"/>
<rect x="189.56" y="213.75" width="3.6" height="21.75" fill="#ef5350"/>
<rect x="196.03" y="224.50" width="1" height="30.50" fill="#ef5350"/>
<rect x="194.73" y="225.00" width="3.6" height="19.50" fill="#ef5350"/>
<rect x="201.20" y="222.00" width="1" height="25.50" fill="#ef5350"/>
<rect x="199.90" y="234.50" width="3.6" height="3.00" fill="#ef5350"/>
<rect x="206.37" y="218.00" width="1" height="48.25" fill="#ef5350"/>
<rect x="205.07" y="236.25" width="3.6" height="2.50" fill="#ef5350"/>
<rect x="211.54" y="224.50" width="1" height="94.75" fill="#ef5350"/>
<rect x="210.24" y="237.50" width="3.6" height="31.25" fill="#ef5350"/>
<rect x="216.71" y="252.50" width="1" height="81.75" fill="#ef5350"/>
<rect x="215.41" y="252.50" width="3.6" height="38.75" fill="#ef5350"/>
<rect x="221.88" y="271.25" width="1" height="62.50" fill="#ef5350"/>
<rect x="220.58" y="271.25" width="3.6" height="33.25" fill="#ef5350"/>
<rect x="227.05" y="288.00" width="1" height="65.00" fill="#ef5350"/>
<rect x="225.75" y="288.00" width="3.6" height="37.75" fill="#ef5350"/>
<rect x="232.22" y="306.75" width="1" height="68.75" fill="#ef5350"/>
<rect x="230.92" y="306.75" width="3.6" height="35.75" fill="#ef5350"/>
<rect x="237.39" y="325.00" width="1" height="60.50" fill="#ef5350"/>
<rect x="236.09" y="325.00" width="3.6" height="34.50" fill="#ef5350"/>
<rect x="242.56" y="323.25" width="1" height="41.50" fill="#ef5350"/>
<rect x="241.26" y="341.50" width="3.6" height="1.00" fill="#ef5350"/>
<rect x="247.73" y="307.50" width="1" height="63.75" fill="#26a69a"/>
<rect x="246.43" y="340.00" width="3.6" height="2.75" fill="#26a69a"/>
<rect x="252.90" y="341.25" width="1" height="57.00" fill="#ef5350"/>
<rect x="251.60" y="341.25" width="3.6" height="24.50" fill="#ef5350"/>
<rect x="258.07" y="326.25" width="1" height="56.25" fill="#ef5350"/>
<rect x="256.77" y="352.75" width="3.6" height="4.75" fill="#ef5350"/>
<rect x="263.24" y="355.00" width="1" height="35.50" fill="#ef5350"/>
<rect x="261.94" y="355.00" width="3.6" height="15.75" fill="#ef5350"/>
<rect x="268.41" y="362.50" width="1" height="35.75" fill="#ef5350"/>
<rect x="267.11" y="362.50" width="3.6" height="19.25" fill="#ef5350"/>
<rect x="273.58" y="368.00" width="1" height="26.50" fill="#ef5350"/>
<rect x="272.28" y="371.75" width="3.6" height="10.75" fill="#ef5350"/>
<rect x="278.75" y="376.25" width="1" height="48.25" fill="#ef5350"/>
<rect x="277.45" y="376.25" width="3.6" height="20.75" fill="#ef5350"/>
<rect x="283.92" y="369.25" width="1" height="48.75" fill="#ef5350"/>
<rect x="282.62" y="385.50" width="3.6" height="9.50" fill="#ef5350"/>
<rect x="289.09" y="375.00" width="1" height="30.75" fill="#26a69a"/>
<rect x="287.79" y="386.25" width="3.6" height="5.00" fill="#26a69a"/>
<rect x="294.26" y="364.00" width="1" height="34.75" fill="#26a69a"/>
<rect x="292.96" y="378.00" width="3.6" height="10.75" fill="#26a69a"/>
<rect x="299.43" y="351.25" width="1" height="40.00" fill="#26a69a"/>
<rect x="298.13" y="368.75" width="3.6" height="15.00" fill="#26a69a"/>
<rect x="304.60" y="352.75" width="1" height="24.25" fill="#26a69a"/>
<rect x="303.30" y="364.25" width="3.6" height="12.75" fill="#26a69a"/>
<rect x="309.77" y="357.25" width="1" height="20.75" fill="#26a69a"/>
<rect x="308.47" y="367.50" width="3.6" height="3.25" fill="#26a69a"/>
<rect x="314.94" y="364.50" width="1" height="18.75" fill="#ef5350"/>
<rect x="313.64" y="369.25" width="3.6" height="1.50" fill="#ef5350"/>
<rect x="320.11" y="352.50" width="1" height="23.00" fill="#26a69a"/>
<rect x="318.81" y="362.50" width="3.6" height="7.00" fill="#26a69a"/>
<rect x="325.28" y="352.50" width="1" height="38.75" fill="#ef5350"/>
<rect x="323.98" y="366.25" width="3.6" height="3.25" fill="#ef5350"/>
<rect x="330.45" y="347.75" width="1" height="43.50" fill="#ef5350"/>
<rect x="329.15" y="367.50" width="3.6" height="4.50" fill="#ef5350"/>
<rect x="335.62" y="357.50" width="1" height="56.25" fill="#ef5350"/>
<rect x="334.32" y="368.75" width="3.6" height="5.75" fill="#ef5350"/>
<rect x="340.79" y="352.20" width="1" height="82.30" fill="#ef5350"/>
<rect x="339.49" y="371.75" width="3.6" height="22.00" fill="#ef5350"/>
<rect x="345.96" y="380.00" width="1" height="63.75" fill="#ef5350"/>
<rect x="344.66" y="382.00" width="3.6" height="28.00" fill="#ef5350"/>
<rect x="351.13" y="375.00" width="1" height="47.00" fill="#ef5350"/>
<rect x="349.83" y="396.25" width="3.6" height="2.50" fill="#ef5350"/>
<rect x="356.30" y="361.25" width="1" height="56.75" fill="#26a69a"/>
<rect x="355.00" y="391.25" width="3.6" height="6.25" fill="#26a69a"/>
<rect x="361.47" y="358.00" width="1" height="48.25" fill="#26a69a"/>
<rect x="360.17" y="376.25" width="3.6" height="18.00" fill="#26a69a"/>
<rect x="366.64" y="368.75" width="1" height="48.75" fill="#ef5350"/>
<rect x="365.34" y="385.00" width="3.6" height="2.00" fill="#ef5350"/>
<rect x="371.81" y="384.50" width="1" height="68.50" fill="#ef5350"/>
<rect x="370.51" y="384.50" width="3.6" height="28.00" fill="#ef5350"/>
<rect x="376.98" y="398.75" width="1" height="51.75" fill="#ef5350"/>
<rect x="375.68" y="398.75" width="3.6" height="18.75" fill="#ef5350"/>
<rect x="382.15" y="380.50" width="1" height="36.50" fill="#26a69a"/>
<rect x="380.85" y="401.25" width="3.6" height="7.50" fill="#26a69a"/>
<rect x="387.32" y="391.25" width="1" height="26.75" fill="#26a69a"/>
<rect x="386.02" y="404.50" width="3.6" height="1.00" fill="#26a69a"/>
<rect x="392.49" y="386.25" width="1" height="27.50" fill="#26a69a"/>
<rect x="391.19" y="402.00" width="3.6" height="3.00" fill="#26a69a"/>
<rect x="397.66" y="396.25" width="1" height="21.25" fill="#ef5350"/>
<rect x="396.36" y="403.00" width="3.6" height="2.00" fill="#ef5350"/>
<rect x="402.83" y="399.00" width="1" height="18.75" fill="#ef5350"/>
<rect x="401.53" y="404.00" width="3.6" height="1.75" fill="#ef5350"/>
<rect x="408.00" y="400.50" width="1" height="20.00" fill="#ef5350"/>
<rect x="406.70" y="404.75" width="3.6" height="1.75" fill="#ef5350"/>
<rect x="413.17" y="392.25" width="1" height="13.50" fill="#26a69a"/>
<rect x="411.87" y="396.25" width="3.6" height="9.50" fill="#26a69a"/>
<rect x="418.34" y="387.50" width="1" height="21.25" fill="#26a69a"/>
<rect x="417.04" y="394.75" width="3.6" height="5.75" fill="#26a69a"/>
<rect x="423.51" y="391.00" width="1" height="29.50" fill="#ef5350"/>
<rect x="422.21" y="396.25" width="3.6" height="10.50" fill="#ef5350"/>
<rect x="428.68" y="392.50" width="1" height="25.50" fill="#ef5350"/>
<rect x="427.38" y="400.50" width="3.6" height="3.25" fill="#ef5350"/>
<rect x="433.85" y="387.75" width="1" height="18.75" fill="#26a69a"/>
<rect x="432.55" y="395.25" width="3.6" height="8.75" fill="#26a69a"/>
<rect x="439.02" y="381.50" width="1" height="25.50" fill="#26a69a"/>
<rect x="437.72" y="394.50" width="3.6" height="5.50" fill="#26a69a"/>
<rect x="444.19" y="387.50" width="1" height="22.25" fill="#26a69a"/>
<rect x="442.89" y="395.25" width="3.6" height="3.50" fill="#26a69a"/>
<rect x="449.36" y="387.00" width="1" height="18.50" fill="#26a69a"/>
<rect x="448.06" y="393.00" width="3.6" height="6.50" fill="#26a69a"/>
<rect x="454.53" y="382.00" width="1" height="31.75" fill="#ef5350"/>
<rect x="453.23" y="393.75" width="3.6" height="4.25" fill="#ef5350"/>
<rect x="459.70" y="397.50" width="1" height="56.25" fill="#ef5350"/>
<rect x="458.40" y="397.50" width="3.6" height="20.00" fill="#ef5350"/>
<rect x="464.87" y="406.25" width="1" height="58.75" fill="#ef5350"/>
<rect x="463.57" y="406.25" width="3.6" height="32.50" fill="#ef5350"/>
<rect x="470.04" y="423.00" width="1" height="43.25" fill="#ef5350"/>
<rect x="468.74" y="423.00" width="3.6" height="24.00" fill="#ef5350"/>
<rect x="475.21" y="433.75" width="1" height="48.75" fill="#ef5350"/>
<rect x="473.91" y="433.75" width="3.6" height="22.50" fill="#ef5350"/>
<rect x="480.38" y="426.25" width="1" height="35.00" fill="#26a69a"/>
<rect x="479.08" y="442.00" width="3.6" height="3.75" fill="#26a69a"/>
<rect x="485.55" y="372.75" width="1" height="104.75" fill="#26a69a"/>
<rect x="484.25" y="427.50" width="3.6" height="17.00" fill="#26a69a"/>
<rect x="490.72" y="410.00" width="1" height="72.50" fill="#ef5350"/>
<rect x="489.42" y="427.00" width="3.6" height="10.50" fill="#ef5350"/>
<rect x="495.89" y="356.25" width="1" height="80.75" fill="#26a69a"/>
<rect x="494.59" y="397.50" width="3.6" height="39.50" fill="#26a69a"/>
<rect x="501.06" y="346.25" width="1" height="71.25" fill="#26a69a"/>
<rect x="499.76" y="367.50" width="3.6" height="50.00" fill="#26a69a"/>
<rect x="506.23" y="315.00" width="1" height="77.50" fill="#26a69a"/>
<rect x="504.93" y="342.50" width="3.6" height="50.00" fill="#26a69a"/>
<rect x="511.40" y="337.50" width="1" height="30.00" fill="#26a69a"/>
<rect x="510.10" y="348.75" width="3.6" height="18.75" fill="#26a69a"/>
<rect x="516.57" y="337.00" width="1" height="25.00" fill="#26a69a"/>
<rect x="515.27" y="351.25" width="3.6" height="7.50" fill="#26a69a"/>
<rect x="521.74" y="341.25" width="1" height="15.75" fill="#26a69a"/>
<rect x="520.44" y="346.25" width="3.6" height="8.25" fill="#26a69a"/>
<rect x="526.91" y="339.50" width="1" height="28.00" fill="#ef5350"/>
<rect x="525.61" y="350.00" width="3.6" height="5.50" fill="#ef5350"/>
<rect x="532.08" y="345.50" width="1" height="38.25" fill="#ef5350"/>
<rect x="530.78" y="353.00" width="3.6" height="10.25" fill="#ef5350"/>
<rect x="537.25" y="355.50" width="1" height="24.00" fill="#ef5350"/>
<rect x="535.95" y="358.75" width="3.6" height="6.25" fill="#ef5350"/>
<rect x="542.42" y="353.00" width="1" height="18.75" fill="#26a69a"/>
<rect x="541.12" y="361.25" width="3.6" height="1.25" fill="#26a69a"/>
<rect x="547.59" y="344.50" width="1" height="20.50" fill="#26a69a"/>
<rect x="546.29" y="353.00" width="3.6" height="9.50" fill="#26a69a"/>
<rect x="552.76" y="326.25" width="1" height="30.75" fill="#26a69a"/>
<rect x="551.46" y="338.75" width="3.6" height="18.25" fill="#26a69a"/>
<rect x="557.93" y="312.00" width="1" height="36.00" fill="#26a69a"/>
<rect x="556.63" y="321.25" width="3.6" height="26.75" fill="#26a69a"/>
<rect x="563.10" y="309.50" width="1" height="25.50" fill="#26a69a"/>
<rect x="561.80" y="317.50" width="3.6" height="17.50" fill="#26a69a"/>
<rect x="568.27" y="304.50" width="1" height="26.75" fill="#26a69a"/>
<rect x="566.97" y="318.25" width="3.6" height="8.50" fill="#26a69a"/>
<rect x="573.44" y="311.25" width="1" height="27.00" fill="#26a69a"/>
<rect x="572.14" y="320.00" width="3.6" height="2.50" fill="#26a69a"/>
<rect x="578.61" y="311.25" width="1" height="38.00" fill="#ef5350"/>
<rect x="577.31" y="320.75" width="3.6" height="8.50" fill="#ef5350"/>
<rect x="583.78" y="312.50" width="1" height="40.00" fill="#ef5350"/>
<rect x="582.48" y="325.00" width="3.6" height="6.75" fill="#ef5350"/>
<rect x="588.95" y="288.75" width="1" height="86.25" fill="#ef5350"/>
<rect x="587.65" y="328.00" width="3.6" height="10.25" fill="#ef5350"/>
<rect x="594.12" y="333.00" width="1" height="50.75" fill="#ef5350"/>
<rect x="592.82" y="333.00" width="3.6" height="34.50" fill="#ef5350"/>
<rect x="599.29" y="333.75" width="1" height="33.75" fill="#ef5350"/>
<rect x="597.99" y="349.00" width="3.6" height="3.75" fill="#ef5350"/>
<rect x="604.46" y="325.50" width="1" height="35.25" fill="#26a69a"/>
<rect x="603.16" y="342.00" width="3.6" height="9.50" fill="#26a69a"/>
<rect x="609.63" y="317.50" width="1" height="43.00" fill="#26a69a"/>
<rect x="608.33" y="341.00" width="3.6" height="5.75" fill="#26a69a"/>
<rect x="614.80" y="323.75" width="1" height="40.75" fill="#ef5350"/>
<rect x="613.50" y="343.50" width="3.6" height="1.00" fill="#ef5350"/>
<rect x="619.97" y="281.25" width="1" height="72.50" fill="#26a69a"/>
<rect x="618.67" y="316.50" width="3.6" height="27.25" fill="#26a69a"/>
<rect x="625.14" y="248.00" width="1" height="82.75" fill="#26a69a"/>
<rect x="623.84" y="285.00" width="3.6" height="45.75" fill="#26a69a"/>
<rect x="630.31" y="266.50" width="1" height="42.25" fill="#26a69a"/>
<rect x="629.01" y="281.00" width="3.6" height="27.75" fill="#26a69a"/>
<rect x="635.48" y="256.25" width="1" height="38.25" fill="#26a69a"/>
<rect x="634.18" y="273.00" width="3.6" height="21.50" fill="#26a69a"/>
<rect x="640.65" y="268.75" width="1" height="21.25" fill="#26a69a"/>
<rect x="639.35" y="278.75" width="3.6" height="5.50" fill="#26a69a"/>
<rect x="645.82" y="278.00" width="1" height="18.75" fill="#ef5350"/>
<rect x="644.52" y="281.25" width="3.6" height="4.50" fill="#ef5350"/>
<rect x="650.99" y="282.50" width="1" height="22.50" fill="#ef5350"/>
<rect x="649.69" y="282.50" width="3.6" height="9.25" fill="#ef5350"/>
<rect x="656.16" y="276.25" width="1" height="35.75" fill="#ef5350"/>
<rect x="654.86" y="288.00" width="3.6" height="7.75" fill="#ef5350"/>
<rect x="661.33" y="285.00" width="1" height="20.00" fill="#ef5350"/>
<rect x="660.03" y="291.25" width="3.6" height="4.50" fill="#ef5350"/>
<rect x="666.50" y="265.50" width="1" height="38.25" fill="#26a69a"/>
<rect x="665.20" y="286.25" width="3.6" height="7.00" fill="#26a69a"/>
<rect x="671.67" y="270.50" width="1" height="41.50" fill="#26a69a"/>
<rect x="670.37" y="288.00" width="3.6" height="1.50" fill="#26a69a"/>
<rect x="676.84" y="278.75" width="1" height="18.00" fill="#26a69a"/>
<rect x="675.54" y="288.00" width="3.6" height="1.50" fill="#26a69a"/>
<rect x="682.01" y="278.00" width="1" height="22.50" fill="#ef5350"/>
<rect x="680.71" y="287.50" width="3.6" height="1.25" fill="#ef5350"/>
<rect x="687.18" y="280.75" width="1" height="16.75" fill="#ef5350"/>
<rect x="685.88" y="288.25" width="3.6" height="1.25" fill="#ef5350"/>
<rect x="692.35" y="279.50" width="1" height="18.00" fill="#26a69a"/>
<rect x="691.05" y="287.00" width="3.6" height="1.75" fill="#26a69a"/>
<rect x="697.52" y="257.00" width="1" height="44.25" fill="#26a69a"/>
<rect x="696.22" y="275.50" width="3.6" height="13.25" fill="#26a69a"/>
<rect x="702.69" y="257.50" width="1" height="32.50" fill="#26a69a"/>
<rect x="701.39" y="267.50" width="3.6" height="15.00" fill="#26a69a"/>
<rect x="707.86" y="259.25" width="1" height="45.25" fill="#ef5350"/>
<rect x="706.56" y="274.25" width="3.6" height="7.00" fill="#ef5350"/>
<rect x="713.03" y="278.00" width="1" height="42.75" fill="#ef5350"/>
<rect x="711.73" y="278.00" width="3.6" height="25.00" fill="#ef5350"/>
<rect x="718.20" y="289.25" width="1" height="37.75" fill="#ef5350"/>
<rect x="716.90" y="289.25" width="3.6" height="16.50" fill="#ef5350"/>
<rect x="723.37" y="294.25" width="1" height="40.00" fill="#ef5350"/>
<rect x="722.07" y="297.50" width="3.6" height="13.25" fill="#ef5350"/>
<rect x="728.54" y="303.25" width="1" height="53.50" fill="#ef5350"/>
<rect x="727.24" y="303.25" width="3.6" height="28.00" fill="#ef5350"/>
<rect x="733.71" y="317.50" width="1" height="92.00" fill="#ef5350"/>
<rect x="732.41" y="317.50" width="3.6" height="55.00" fill="#ef5350"/>
<rect x="738.88" y="345.00" width="1" height="68.75" fill="#ef5350"/>
<rect x="737.58" y="345.00" width="3.6" height="40.50" fill="#ef5350"/>
</g>
<g clip-path="url(#chartclip)"><ellipse cx="783.1" cy="509.3" rx="4.6" ry="5.0" fill="#fff"/><text transform="translate(781.05,512.60) scale(0.81,1)" x="-0.09" y="0" font-size="9.4" fill="#3c3c44" stroke="#3c3c44" stroke-width="0.15">8</text><ellipse cx="850.3" cy="509.5" rx="4.6" ry="5.0" fill="#fff"/><text transform="translate(848.25,512.80) scale(0.81,1)" x="-0.09" y="0" font-size="9.4" fill="#3c3c44" stroke="#3c3c44" stroke-width="0.15">4</text><ellipse cx="860.9" cy="509.5" rx="4.6" ry="5.0" fill="#fff"/><text transform="translate(858.85,512.80) scale(0.81,1)" x="-0.09" y="0" font-size="9.4" fill="#3c3c44" stroke="#3c3c44" stroke-width="0.15">5</text><ellipse cx="866.9" cy="509.5" rx="4.6" ry="5.0" fill="#fff"/><text transform="translate(864.85,512.80) scale(0.81,1)" x="-0.09" y="0" font-size="9.4" fill="#3c3c44" stroke="#3c3c44" stroke-width="0.15">7</text><ellipse cx="876.6" cy="509.5" rx="4.6" ry="5.0" fill="#fff"/><text transform="translate(872.51,512.80) scale(0.81,1)" x="-0.09 4.96" y="0" font-size="9.4" fill="#3c3c44" stroke="#3c3c44" stroke-width="0.15">12</text><ellipse cx="887.4" cy="509.5" rx="4.6" ry="5.0" fill="#fff"/><text transform="translate(885.35,512.80) scale(0.81,1)" x="-0.09" y="0" font-size="9.4" fill="#3c3c44" stroke="#3c3c44" stroke-width="0.15">1</text></g>
<rect x="886.3" y="0" width="45.700000000000045" height="550" fill="#fff"/>
<rect x="0" y="527.4" width="932" height="22.600000000000023" fill="#fff"/>
<line x1="886.3" y1="0" x2="886.3" y2="550" stroke="#5d606b" stroke-width="1.5"/>
<line x1="0" y1="527.4" x2="932" y2="527.4" stroke="#5d606b" stroke-width="1.3"/>
<line x1="886.3" y1="12.00" x2="889.6999999999999" y2="12.00" stroke="#5d606b" stroke-width="1"/>
<text transform="translate(893.90,15.80) scale(0.81,1)" x="-0.10 6.43 9.96 15.76 21.56 27.37 33.17" y="0" font-size="10.8" fill="#50535e" stroke="#50535e" stroke-width="0.3">1.12100</text>
<line x1="886.3" y1="49.50" x2="889.6999999999999" y2="49.50" stroke="#5d606b" stroke-width="1"/>
<text transform="translate(893.90,53.30) scale(0.81,1)" x="-0.10 6.43 9.96 15.76 21.56 27.37 33.17" y="0" font-size="10.8" fill="#50535e" stroke="#50535e" stroke-width="0.3">1.12000</text>
<line x1="886.3" y1="87.00" x2="889.6999999999999" y2="87.00" stroke="#5d606b" stroke-width="1"/>
<text transform="translate(893.90,90.80) scale(0.81,1)" x="-0.10 6.43 9.96 15.76 21.56 27.37 33.17" y="0" font-size="10.8" fill="#50535e" stroke="#50535e" stroke-width="0.3">1.11900</text>
<line x1="886.3" y1="124.50" x2="889.6999999999999" y2="124.50" stroke="#5d606b" stroke-width="1"/>
<text transform="translate(893.90,128.30) scale(0.81,1)" x="-0.10 6.43 9.96 15.76 21.56 27.37 33.17" y="0" font-size="10.8" fill="#50535e" stroke="#50535e" stroke-width="0.3">1.11800</text>
<line x1="886.3" y1="162.00" x2="889.6999999999999" y2="162.00" stroke="#5d606b" stroke-width="1"/>
<text transform="translate(893.90,165.80) scale(0.81,1)" x="-0.10 6.43 9.96 15.76 21.56 27.37 33.17" y="0" font-size="10.8" fill="#50535e" stroke="#50535e" stroke-width="0.3">1.11700</text>
<line x1="886.3" y1="199.50" x2="889.6999999999999" y2="199.50" stroke="#5d606b" stroke-width="1"/>
<text transform="translate(893.90,203.30) scale(0.81,1)" x="-0.10 6.43 9.96 15.76 21.56 27.37 33.17" y="0" font-size="10.8" fill="#50535e" stroke="#50535e" stroke-width="0.3">1.11600</text>
<line x1="886.3" y1="237.00" x2="889.6999999999999" y2="237.00" stroke="#5d606b" stroke-width="1"/>
<text transform="translate(893.90,240.80) scale(0.81,1)" x="-0.10 6.43 9.96 15.76 21.56 27.37 33.17" y="0" font-size="10.8" fill="#50535e" stroke="#50535e" stroke-width="0.3">1.11500</text>
<line x1="886.3" y1="274.50" x2="889.6999999999999" y2="274.50" stroke="#5d606b" stroke-width="1"/>
<text transform="translate(893.90,278.30) scale(0.81,1)" x="-0.10 6.43 9.96 15.76 21.56 27.37 33.17" y="0" font-size="10.8" fill="#50535e" stroke="#50535e" stroke-width="0.3">1.11400</text>
<line x1="886.3" y1="312.00" x2="889.6999999999999" y2="312.00" stroke="#5d606b" stroke-width="1"/>
<text transform="translate(893.90,315.80) scale(0.81,1)" x="-0.10 6.43 9.96 15.76 21.56 27.37 33.17" y="0" font-size="10.8" fill="#50535e" stroke="#50535e" stroke-width="0.3">1.11300</text>
<line x1="886.3" y1="349.50" x2="889.6999999999999" y2="349.50" stroke="#5d606b" stroke-width="1"/>
<text transform="translate(893.90,353.30) scale(0.81,1)" x="-0.10 6.43 9.96 15.76 21.56 27.37 33.17" y="0" font-size="10.8" fill="#50535e" stroke="#50535e" stroke-width="0.3">1.11200</text>
<line x1="886.3" y1="387.00" x2="889.6999999999999" y2="387.00" stroke="#5d606b" stroke-width="1"/>
<text transform="translate(893.90,390.80) scale(0.81,1)" x="-0.10 6.43 9.96 15.76 21.56 27.37 33.17" y="0" font-size="10.8" fill="#50535e" stroke="#50535e" stroke-width="0.3">1.11100</text>
<line x1="886.3" y1="424.50" x2="889.6999999999999" y2="424.50" stroke="#5d606b" stroke-width="1"/>
<text transform="translate(893.90,428.30) scale(0.81,1)" x="-0.10 6.43 9.96 15.76 21.56 27.37 33.17" y="0" font-size="10.8" fill="#50535e" stroke="#50535e" stroke-width="0.3">1.11000</text>
<line x1="886.3" y1="462.00" x2="889.6999999999999" y2="462.00" stroke="#5d606b" stroke-width="1"/>
<text transform="translate(893.90,465.80) scale(0.81,1)" x="-0.10 6.43 9.96 15.76 21.56 27.37 33.17" y="0" font-size="10.8" fill="#50535e" stroke="#50535e" stroke-width="0.3">1.10900</text>
<line x1="886.3" y1="499.50" x2="889.6999999999999" y2="499.50" stroke="#5d606b" stroke-width="1"/>
<text transform="translate(893.90,503.30) scale(0.81,1)" x="-0.10 6.43 9.96 15.76 21.56 27.37 33.17" y="0" font-size="10.8" fill="#50535e" stroke="#50535e" stroke-width="0.3">1.10800</text>
<rect x="886.8" y="365" width="45.700000000000045" height="29" fill="#ef5350"/>
<rect x="900" y="395.6" width="32" height="14.6" fill="#ef5350"/>
<line x1="887.0" y1="372.5" x2="889.6999999999999" y2="372.5" stroke="#fff" stroke-width="1"/>
<line x1="887.0" y1="387.2" x2="889.6999999999999" y2="387.2" stroke="#fff" stroke-width="1"/>
<text transform="translate(893.80,375.80) scale(0.81,1)" x="-0.10 6.43 9.96 15.76 21.56 27.37 33.17" y="0" font-size="10.8" font-weight="bold" fill="#fff">1.11137</text>
<text transform="translate(893.80,390.50) scale(0.81,1)" x="-0.10 6.43 9.96 15.76 21.56 27.37 33.17" y="0" font-size="10.8" font-weight="bold" fill="#fff">1.11105</text>
<text transform="translate(903.30,406.20) scale(0.81,1)" x="-0.10 5.70 11.94 15.76 21.56" y="0" font-size="10.8" font-weight="bold" fill="#fff">25:52</text>
<rect x="886.8" y="499.7" width="45.700000000000045" height="14.7" fill="#000"/>
<line x1="887.0" y1="507.6" x2="889.6999999999999" y2="507.6" stroke="#fff" stroke-width="1"/>
<text transform="translate(893.80,510.50) scale(0.81,1)" x="-0.10 6.43 9.96 15.76 21.56 27.37 33.17" y="0" font-size="10.8" font-weight="bold" fill="#fff">1.10777</text>
<line x1="47.50" y1="527.4" x2="47.50" y2="530.1999999999999" stroke="#5d606b" stroke-width="1"/>
<text transform="translate(44.87,543.50) scale(0.81,1)" x="-0.10" y="0" font-size="10.7" fill="#50535e" stroke="#50535e" stroke-width="0.3">7</text>
<line x1="109.54" y1="527.4" x2="109.54" y2="530.1999999999999" stroke="#5d606b" stroke-width="1"/>
<text transform="translate(98.22,543.50) scale(0.81,1)" x="-0.10 5.65 12.12 15.62 21.37" y="0" font-size="10.7" fill="#50535e" stroke="#50535e" stroke-width="0.3">12:00</text>
<line x1="171.58" y1="527.4" x2="171.58" y2="530.1999999999999" stroke="#5d606b" stroke-width="1"/>
<text transform="translate(168.95,543.50) scale(0.81,1)" x="-0.10" y="0" font-size="10.7" fill="#50535e" stroke="#50535e" stroke-width="0.3">8</text>
<line x1="233.62" y1="527.4" x2="233.62" y2="530.1999999999999" stroke="#5d606b" stroke-width="1"/>
<text transform="translate(222.30,543.50) scale(0.81,1)" x="-0.10 5.65 12.12 15.62 21.37" y="0" font-size="10.7" fill="#50535e" stroke="#50535e" stroke-width="0.3">12:00</text>
<line x1="295.66" y1="527.4" x2="295.66" y2="530.1999999999999" stroke="#5d606b" stroke-width="1"/>
<text transform="translate(293.03,543.50) scale(0.81,1)" x="-0.10" y="0" font-size="10.7" fill="#50535e" stroke="#50535e" stroke-width="0.3">9</text>
<line x1="357.70" y1="527.4" x2="357.70" y2="530.1999999999999" stroke="#5d606b" stroke-width="1"/>
<text transform="translate(346.38,543.50) scale(0.81,1)" x="-0.10 5.65 12.12 15.62 21.37" y="0" font-size="10.7" fill="#50535e" stroke="#50535e" stroke-width="0.3">12:00</text>
<line x1="419.74" y1="527.4" x2="419.74" y2="530.1999999999999" stroke="#5d606b" stroke-width="1"/>
<text transform="translate(414.78,543.50) scale(0.81,1)" x="-0.10 5.65" y="0" font-size="10.7" fill="#50535e" stroke="#50535e" stroke-width="0.3">10</text>
<line x1="481.78" y1="527.4" x2="481.78" y2="530.1999999999999" stroke="#5d606b" stroke-width="1"/>
<text transform="translate(470.46,543.50) scale(0.81,1)" x="-0.10 5.65 12.12 15.62 21.37" y="0" font-size="10.7" fill="#50535e" stroke="#50535e" stroke-width="0.3">12:00</text>
<line x1="543.82" y1="527.4" x2="543.82" y2="530.1999999999999" stroke="#5d606b" stroke-width="1"/>
<text transform="translate(538.86,543.50) scale(0.81,1)" x="-0.10 5.65" y="0" font-size="10.7" fill="#50535e" stroke="#50535e" stroke-width="0.3">13</text>
<line x1="605.86" y1="527.4" x2="605.86" y2="530.1999999999999" stroke="#5d606b" stroke-width="1"/>
<text transform="translate(594.54,543.50) scale(0.81,1)" x="-0.10 5.65 12.12 15.62 21.37" y="0" font-size="10.7" fill="#50535e" stroke="#50535e" stroke-width="0.3">12:00</text>
<line x1="667.90" y1="527.4" x2="667.90" y2="530.1999999999999" stroke="#5d606b" stroke-width="1"/>
<text transform="translate(662.94,543.50) scale(0.81,1)" x="-0.10 5.65" y="0" font-size="10.7" fill="#50535e" stroke="#50535e" stroke-width="0.3">14</text>
<line x1="729.94" y1="527.4" x2="729.94" y2="530.1999999999999" stroke="#5d606b" stroke-width="1"/>
<text transform="translate(718.62,543.50) scale(0.81,1)" x="-0.10 5.65 12.12 15.62 21.37" y="0" font-size="10.7" fill="#50535e" stroke="#50535e" stroke-width="0.3">12:00</text>
<line x1="791.98" y1="527.4" x2="791.98" y2="530.1999999999999" stroke="#5d606b" stroke-width="1"/>
<text transform="translate(787.02,543.50) scale(0.81,1)" x="-0.10 5.65" y="0" font-size="10.7" fill="#50535e" stroke="#50535e" stroke-width="0.3">15</text>
<line x1="854.02" y1="527.4" x2="854.02" y2="530.1999999999999" stroke="#5d606b" stroke-width="1"/>
<text transform="translate(842.70,543.50) scale(0.81,1)" x="-0.10 5.65 12.12 15.62 21.37" y="0" font-size="10.7" fill="#50535e" stroke="#50535e" stroke-width="0.3">12:00</text>
</svg>
</body></html>
